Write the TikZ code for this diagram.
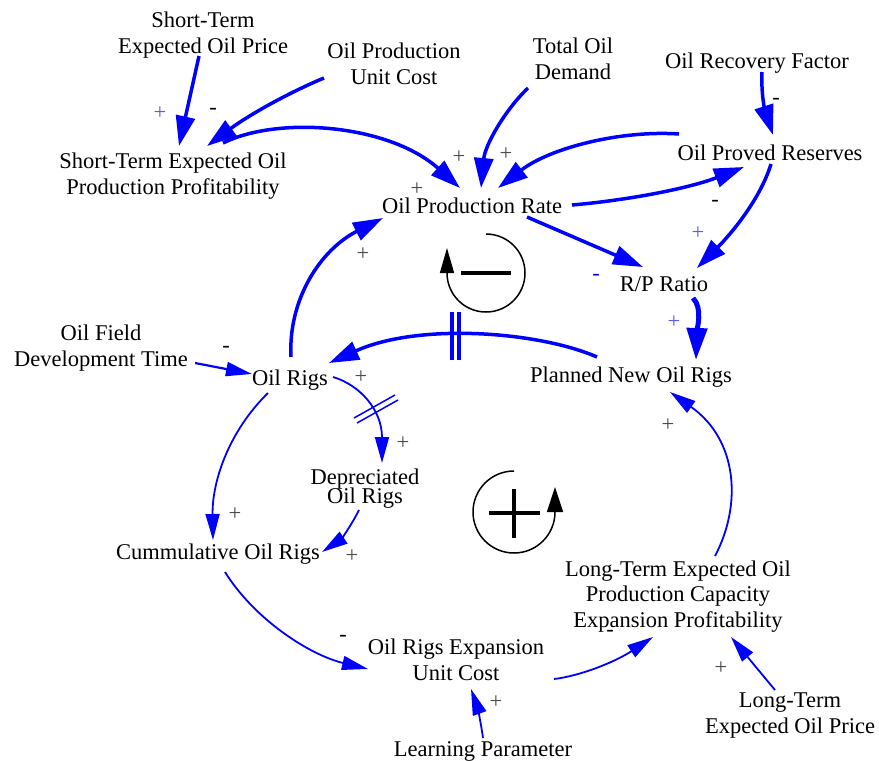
\documentclass[tikz,border=0pt]{standalone}
\usepackage{fontspec}
\setmainfont{Liberation Serif}
\usetikzlibrary{arrows.meta}
\newcommand\mytightls{\lineskiplimit=-50pt\relax}
\begin{document}
\begin{tikzpicture}[x=1pt,y=-1pt,
  lbl/.style={font=\fontsize{22.5}{25.5}\selectfont, align=center, anchor=base, inner sep=0pt},
  thk/.style={draw=blue, line width=3.5pt, -{Triangle[length=30pt,width=19pt]}},
  thn/.style={draw=blue, line width=1.8pt, -{Triangle[length=26pt,width=14pt]}},
  pol/.style={font=\fontsize{22.5}{25.5}\selectfont, inner sep=0pt, anchor=center, text=black!70},
  polb/.style={pol, text=blue!65},
  neg/.style={pol, text=black},
  negb/.style={pol, text=blue},
  loopc/.style={draw=black, line width=1.5pt},
  loopsign/.style={draw=black, line width=4.5pt},
]
\fill[white] (0,0) rectangle (879,761);
\useasboundingbox (0,0) rectangle (879,761);

% variables (base = baseline of last line)
\node[lbl] (stp) at (203,53) {Short-Term\\Expected Oil Price};
\node[lbl] (opuc) at (394,84) {Oil Production\\Unit Cost};
\node[lbl] (tod) at (573,79) {Total Oil\\Demand};
\node[lbl] (orf) at (757,68) {Oil Recovery Factor};
\node[lbl] (steopp) at (173,194) {Short-Term Expected Oil\\Production Profitability};
\node[lbl] (res) at (770,160) {Oil Proved Reserves};
\node[lbl] (opr) at (472,213) {Oil Production Rate};
\node[lbl] (rp) at (664,291) {R/P Ratio};
\node[lbl] (fdt) at (101,366) {Oil Field\\Development Time};
\node[lbl] (rigs) at (290,385) {Oil Rigs};
\node[lbl] (pnr) at (631,382) {Planned New Oil Rigs};
\node[lbl, font=\fontsize{22.5}{19}\selectfont\mytightls] (dep) at (365,503) {Depreciated\\Oil Rigs};
\node[lbl] (cum) at (218,559) {Cummulative Oil Rigs};
\node[lbl] (ruc) at (456,680) {Oil Rigs Expansion\\Unit Cost};
\node[lbl] (lt) at (678,627) {Long-Term Expected Oil\\Production Capacity\\Expansion Profitability};
\node[lbl] (ltp) at (790,733) {Long-Term\\Expected Oil Price};
\node[lbl] (lp) at (483,756) {Learning Parameter};

% thick links
\draw[thk] ([shift={(-4,3)}]stp.base) -- ([shift={(6,-48)}]steopp.base);
\draw[thk] ([shift={(-70,-6)}]opuc.base) .. controls +(-36,15) and +(42,-31) .. ([shift={(34,-48)}]steopp.base);
\draw[thk] ([shift={(50,-51)}]steopp.base) .. controls +(57,-28) and +(-70,-63) .. ([shift={(-12,-25)}]opr.base);
\draw[thk] ([shift={(-45,9)}]tod.base) .. controls +(-23,22) and +(4,-43) .. ([shift={(9,-25)}]opr.base);
\draw[thk] ([shift={(-91,-26)}]res.base) .. controls +(-59,-4) and +(52,-40) .. ([shift={(26,-25)}]opr.base);
\draw[thk] ([shift={(100,-8)}]opr.base) .. controls +(58,-5) and +(-54,21) .. ([shift={(-26,7)}]res.base);
\draw[thk] ([shift={(5,4)}]orf.base) .. controls +(-1,23) and +(-8,-25) .. ([shift={(3,-25)}]res.base);
\draw[thk] ([shift={(1,4)}]res.base) .. controls +(-11,36) and +(33,-33) .. ([shift={(33,-23)}]rp.base);
\draw[thk] ([shift={(55,4)}]opr.base) -- ([shift={(-21,-24)}]rp.base);
\draw[thk, line width=5pt, -{Triangle[length=32pt,width=20pt]}] ([shift={(29,7)}]rp.base) .. controls +(10,10) and +(1,-30) .. ([shift={(65,-22)}]pnr.base);
\draw[thk] ([shift={(-34,-25)}]pnr.base) .. controls +(-57,-25) and +(91,-41) .. ([shift={(39,-22)}]rigs.base);
\draw[thk] ([shift={(1,-28)}]rigs.base) .. controls +(-3,-57) and +(-63,32) .. ([shift={(-89,5)}]opr.base);

% delay mark
\draw[blue, line width=3.5pt] (452,312) -- (452,360) (459,312) -- (459,360);

% thin links
\draw[thn, line width=2.2pt] ([shift={(94,-3)}]fdt.base) -- ([shift={(-38,-11)}]rigs.base);
\draw[thn] ([shift={(43,-8)}]rigs.base) .. controls +(27,8) and +(0,-53) .. ([shift={(17,-40)}]dep.base);
\draw[blue, line width=1.5pt] (354,418) -- (395,395) (357,423) -- (398,400);
\draw[thn] ([shift={(-22,8)}]rigs.base) .. controls +(-38,37) and +(-1,-60) .. ([shift={(-5,-19)}]cum.base);
\draw[thn] ([shift={(-6,7)}]dep.base) .. controls +(-9,18) and +(18,-12) .. ([shift={(104,-7)}]cum.base);
\draw[thn] ([shift={(7,13)}]cum.base) .. controls +(30,48) and +(-58,-14) .. ([shift={(-88,-11)}]ruc.base);
\draw[thn] ([shift={(98,-1)}]ruc.base) .. controls +(26,-3) and +(-38,25) .. ([shift={(-25,10)}]lt.base);
\draw[thn] ([shift={(-15,-43)}]ltp.base) -- ([shift={(53,10)}]lt.base);
\draw[thn] ([shift={(37,-71)}]lt.base) .. controls +(27,-51) and +(68,48) .. ([shift={(39,10)}]pnr.base);
\draw[thn] ([shift={(0,-18)}]lp.base) .. controls +(-2,-15) and +(6,17) .. ([shift={(15,9)}]ruc.base);

% polarities
\node[polb] (p1) at (160,113) {+};
\node[neg] (p2) at (213,111) {-};
\node[pol] (p3) at (459,157) {+};
\node[pol] (p4) at (506,154) {+};
\node[pol] (p5) at (417,189) {+};
\node[pol] (p6) at (363,254) {+};
\node[neg] (p7) at (776,101) {-};
\node[neg] (p8) at (715,203) {-};
\node[polb] (p9) at (698,233) {+};
\node[negb] (p10) at (596,277) {-};
\node[polb] (p11) at (674,322) {+};
\node[neg] (p12) at (226,349) {-};
\node[pol] (p13) at (361,377) {+};
\node[pol] (p14) at (403,443) {+};
\node[pol] (p15) at (235,514) {+};
\node[pol] (p16) at (352,556) {+};
\node[neg] (p17) at (343,638) {-};
\node[neg] (p18) at (610,633) {-};
\node[pol] (p19) at (668,425) {+};
\node[pol] (p20) at (721,668) {+};
\node[pol] (p21) at (496,702) {+};

% loop symbols
\draw[loopc, -{Triangle[length=25pt,width=14pt]}] (486,234) arc[start angle=-90, end angle=180, radius=39] -- ++(0,-25);
\draw[loopsign] (461,273) -- (511,273);
\draw[loopc, -{Triangle[length=25pt,width=16pt]}] (514,471) arc[start angle=-90, end angle=-360, radius=41] -- ++(0,-25);
\draw[loopsign] (489,513) -- (540,513) (514,489) -- (514,538);
\end{tikzpicture}
\end{document}
